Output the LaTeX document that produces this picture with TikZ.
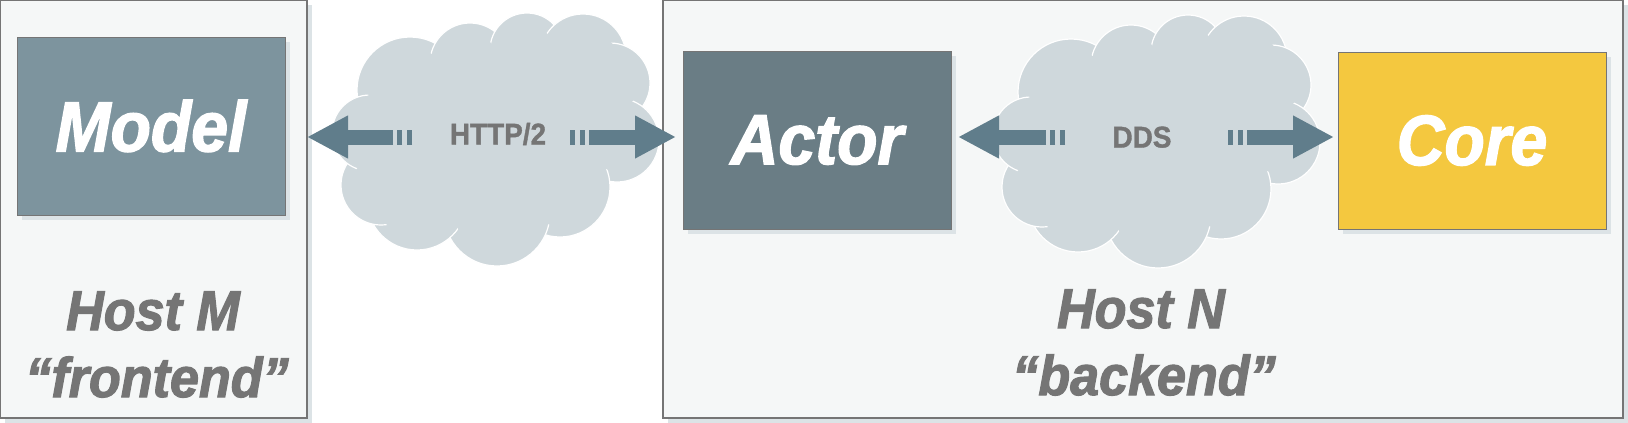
\documentclass[tikz,border=0pt]{standalone}
\usepackage{fontspec}
\setmainfont{Liberation Sans}[FakeStretch=0.93, BoldFeatures={FakeBold=1.2}, BoldItalicFeatures={FakeBold=2}]
\usetikzlibrary{arrows.meta,shadows}
\definecolor{hostfill}{HTML}{F5F7F7}
\definecolor{hostline}{HTML}{757575}
\definecolor{shadowc}{HTML}{DCE3E6}
\definecolor{modelc}{HTML}{7D949E}
\definecolor{actorc}{HTML}{6A7D85}
\definecolor{corec}{HTML}{F4C83F}
\definecolor{cloudc}{HTML}{CFD8DC}
\definecolor{arrowc}{HTML}{607D8B}
\definecolor{labelc}{HTML}{757575}
\tikzset{
  cloudpic/.pic={
    \foreach \px/\py/\r in {-83/-50/53,-23/-77/40,34/-90/37,90/-83/43,117/-57/40,124/0/42,67/47/50,4/73/53,-76/60/50,-112/45/40,-123/-7/38}
      \filldraw[puff] (\px,\py) circle[radius=\r*1pt];
    \foreach \px/\py/\r in {-83/-50/53,-23/-77/40,34/-90/37,90/-83/43,117/-57/40,124/0/42,67/47/50,4/73/53,-76/60/50,-112/45/40,-123/-7/38}
      \fill[cloudc] (\px,\py) circle[radius=\r*1pt-11pt];
    \fill[cloudc] (0,-5) ellipse[x radius=110pt, y radius=75pt];
  }
}
\begin{document}
\begin{tikzpicture}[x=1pt,y=-1pt,
  boxshadow/.style={general shadow={fill=shadowc, shadow xshift=5pt, shadow yshift=-5pt}},
  hostbox/.style={draw=hostline, line width=1.2pt, fill=hostfill, inner sep=0pt, outer sep=0pt, boxshadow},
  compbox/.style={draw=hostline, line width=1pt, inner sep=0pt, outer sep=0pt, minimum width=268pt, minimum height=178pt, boxshadow, text=white, font=\fontsize{71}{80}\selectfont\bfseries\itshape},
  hostlabel/.style={anchor=base, text=labelc, font=\fontsize{56}{64}\selectfont\bfseries\itshape},
  protolabel/.style={anchor=base, text=labelc, font=\fontsize{30}{32}\selectfont\bfseries},
  bigarrow/.style={draw=arrowc, line width=15pt, dash pattern=on 5pt off 5pt on 5pt off 4pt on 2000pt off 1pt, -{Triangle[length=41pt,width=40pt]}},
  puff/.style={fill=cloudc, draw=white, line width=1.2pt},
]
\useasboundingbox (0,0) rectangle (1628,423);
\fill[white] (0,0) rectangle (1628,423);

\node[hostbox, minimum width=307pt, minimum height=418pt] (hostM) at (153.5,209) {};
\node[hostbox, minimum width=960pt, minimum height=418pt] (hostN) at (1143,209) {};

\pic at (493,140) {cloudpic};
\pic at (1154,142) {cloudpic};

\node[compbox, fill=modelc] (model) at (151,126) {Model};
\node[compbox, fill=actorc] (actor) at (817,140) {Actor};
\node[compbox, fill=corec, minimum height=177pt] (core) at (1472,140.5) {Core};

\node[hostlabel] (hostMa) at (153,330) {Host M};
\node[hostlabel] (hostMb) at (157,397) {“frontend”};
\node[hostlabel] (hostNa) at (1141,328) {Host N};
\node[hostlabel] (hostNb) at (1144,395) {“backend”};

\node[protolabel] (http) at (498,144.5) {HTTP/2};
\node[protolabel] (dds) at (1142,147.5) {DDS};

\coordinate (h1s) at (412,137);
\coordinate (h2s) at (570,137);
\coordinate (d1s) at (1065,137);
\coordinate (d2s) at (1228,137);
\draw[bigarrow] (h1s) -- (h1s -| hostM.east);
\draw[bigarrow, shorten >=7pt] (h2s) -- (h2s -| actor.west);
\draw[bigarrow, shorten >=7pt] (d1s) -- (d1s -| actor.east);
\draw[bigarrow, shorten >=4pt] (d2s) -- (d2s -| core.west);
\end{tikzpicture}
\end{document}
